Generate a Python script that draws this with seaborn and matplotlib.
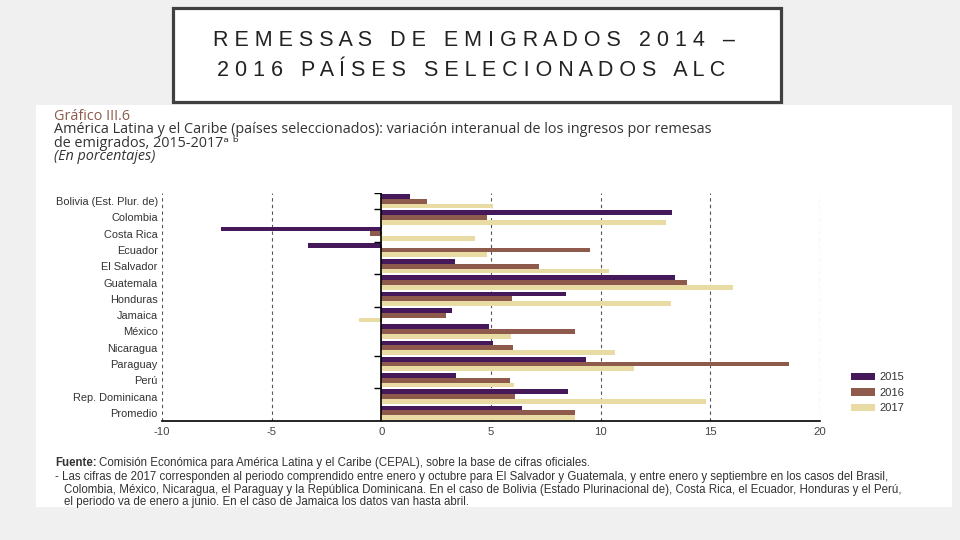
import matplotlib
matplotlib.use("Agg")
import matplotlib.pyplot as plt
from matplotlib.patches import Rectangle
import seaborn as sns
import pandas as pd

# Datos (variación interanual, %)
paises = ["Bolivia (Est. Plur. de)", "Colombia", "Costa Rica", "Ecuador", "El Salvador",
          "Guatemala", "Honduras", "Jamaica", "México", "Nicaragua", "Paraguay", "Perú",
          "Rep. Dominicana", "Promedio"]
v2015 = [1.3, 13.25, -7.3, -3.35, 3.35, 13.4, 8.4, 3.2, 4.9, 5.1, 9.35, 3.4, 8.5, 6.4]
v2016 = [2.1, 4.8, -0.5, 9.5, 7.2, 13.95, 5.95, 2.95, 8.85, 6.0, 18.6, 5.85, 6.1, 8.85]
v2017 = [5.1, 13.0, 4.25, 4.8, 10.4, 16.05, 13.2, -1.0, 5.9, 10.65, 11.5, 6.05, 14.8, 8.85]
anios = ["2015", "2016", "2017"]
colores = ["#45185a", "#8d5a4b", "#e8dca4"]
xticks = [-10, -5, 0, 5, 10, 15, 20]

df = pd.DataFrame({
    "pais": paises * 3,
    "valor": v2015 + v2016 + v2017,
    "anio": [a for a in anios for _ in paises],
})

sns.set_style("white")
plt.rcParams["font.family"] = ["Liberation Sans", "DejaVu Sans"]

fig = plt.figure(figsize=(9.6, 5.4), dpi=100, facecolor="#f0f0f0")
W, H = 960, 540

# panel blanco de la imagen
fig.patches.append(Rectangle((36 / W, (H - 507) / H), (952 - 36) / W, (507 - 105) / H,
                             transform=fig.transFigure, facecolor="white", edgecolor="none", zorder=-5))
# caja del título
fig.patches.append(Rectangle((173 / W, (H - 102) / H), (781 - 173) / W, (102 - 8) / H,
                             transform=fig.transFigure, facecolor="white", edgecolor="#404040",
                             lw=2.3, zorder=-4))
fig.text(213 / W, (H - 40) / H, "R E M E S S A S   D E   E M I G R A D O S   2 0 1 4   –",
         fontsize=15.5, color="#222222", va="center", ha="left")
fig.text(217 / W, (H - 70) / H, "2 0 1 6   P A Í S E S   S E L E C I O N A D O S   A L C",
         fontsize=15.5, color="#222222", va="center", ha="left")

# encabezado del gráfico
fam_head = ["Open Sans", "DejaVu Sans"]
fs_head = 10.4
fig.text(54 / W, (H - 116) / H, "Gráfico III.6", fontsize=fs_head, color="#8d5a4b", va="center", family=fam_head)
fig.text(54 / W, (H - 136.5) / H,
         "América Latina y el Caribe (países seleccionados): variación interanual de los ingresos por remesas\n"
         "de emigrados, 2015-2017ᵃ ᵇ",
         fontsize=fs_head, color="#333333", va="center", family=fam_head, linespacing=0.95)
fig.text(54 / W, (H - 157) / H, "(En porcentajes)", fontsize=fs_head, color="#333333", va="center",
         style="italic", family=fam_head)

ax = fig.add_axes([162 / W, (H - 421) / H, (820 - 162) / W, (421 - 193) / H], zorder=2)
ax.set_facecolor("none")
sns.barplot(data=df, y="pais", x="valor", hue="anio", hue_order=anios, palette=colores,
            orient="h", width=0.88, saturation=1, linewidth=0, edgecolor="none", ax=ax, zorder=3)

ax.set_xlim(-10, 20)
ax.set_ylim(len(paises) - 0.5, -0.5)
ax.set_xticks(xticks)
ax.set_xticklabels([str(t) for t in xticks])
ax.grid(axis="x", linestyle=(0, (3, 3)), color="#555555", lw=0.8)
ax.set_axisbelow(True)
ax.axvline(0, color="black", lw=1.2, zorder=4)
# marcas en el eje de cero
ax.hlines([k - 0.5 for k in [0, 1, 3, 5, 7, 10, 12]], -0.35, 0, color="black", lw=1, zorder=4)

for s in ["top", "right", "left"]:
    ax.spines[s].set_visible(False)
ax.spines["bottom"].set_color("black")
ax.spines["bottom"].set_linewidth(1.2)
ax.tick_params(axis="x", length=0, labelsize=8.2, labelcolor="#444444", pad=4)
ax.tick_params(axis="y", length=0, labelsize=7.9, labelcolor="#333333", pad=3)
ax.set_xlabel("")
ax.set_ylabel("")

sns.move_legend(ax, "lower left", bbox_to_anchor=(845 / W, (H - 419) / H),
                bbox_transform=fig.transFigure, frameon=False, title=None,
                fontsize=8, handlelength=2.2, handleheight=0.7, labelspacing=0.5,
                handletextpad=0.4, borderpad=0)
for t in ax.get_legend().get_texts():
    t.set_color("#333333")

# notas
fs_nota = 8.3
t_fuente = fig.text(55 / W, (H - 463) / H, "Fuente:", fontsize=fs_nota, weight="bold", color="#333333",
                    va="center")
renderer = fig.canvas.get_renderer()
x_fin = t_fuente.get_window_extent(renderer).x1 / W
fig.text(x_fin + 2 / W, (H - 463) / H,
         "Comisión Económica para América Latina y el Caribe (CEPAL), sobre la base de cifras oficiales.",
         fontsize=fs_nota, color="#333333", va="center")
fig.text(55 / W, (H - 477) / H,
         "- Las cifras de 2017 corresponden al periodo comprendido entre enero y octubre para El Salvador y Guatemala, "
         "y entre enero y septiembre en los casos del Brasil,",
         fontsize=fs_nota, color="#333333", va="center")
fig.text(64 / W, (H - 490) / H,
         "Colombia, México, Nicaragua, el Paraguay y la República Dominicana. En el caso de Bolivia "
         "(Estado Plurinacional de), Costa Rica, el Ecuador, Honduras y el Perú,",
         fontsize=fs_nota, color="#333333", va="center")
fig.text(64 / W, (H - 502) / H,
         "el periodo va de enero a junio. En el caso de Jamaica los datos van hasta abril.",
         fontsize=fs_nota, color="#333333", va="center")

fig.savefig("out.png", dpi=100, facecolor=fig.get_facecolor())
